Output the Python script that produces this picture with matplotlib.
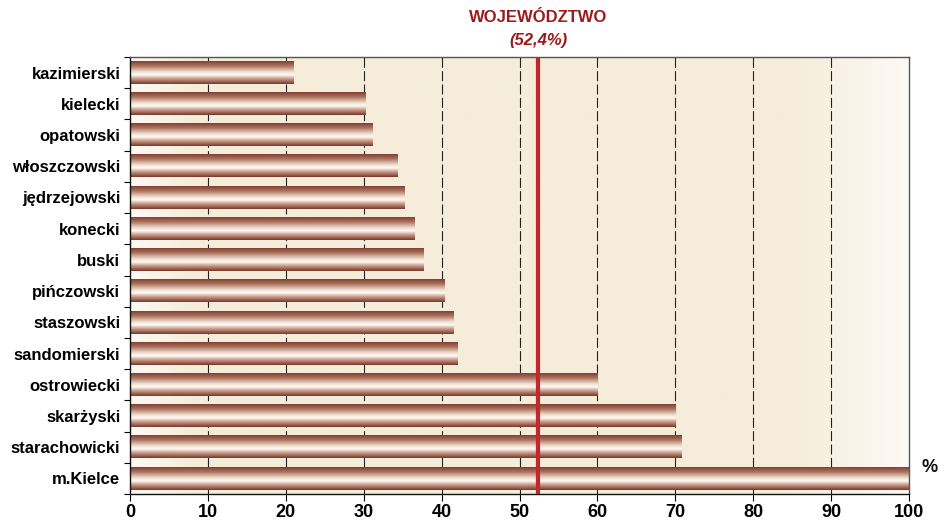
import numpy as np
import matplotlib
matplotlib.use("Agg")
import matplotlib.pyplot as plt
from matplotlib.ticker import FixedLocator

categories = ["kazimierski", "kielecki", "opatowski", "włoszczowski", "jędrzejowski",
              "konecki", "buski", "pińczowski", "staszowski", "sandomierski",
              "ostrowiecki", "skarżyski", "starachowicki", "m.Kielce"]
values = [21.0, 30.2, 31.1, 34.4, 35.3, 36.5, 37.7, 40.4, 41.5, 42.0, 60.0, 70.0, 70.8, 100.0]
xticks = [0, 10, 20, 30, 40, 50, 60, 70, 80, 90, 100]
region_value = 52.4
region_label = "WOJEWÓDZTWO"
region_text = "(52,4%)"

regular = ["Liberation Sans", "DejaVu Sans"]

fig = plt.figure(figsize=(9.46, 5.23), dpi=100)
ax = fig.add_axes([130/946, 1-494/523, (909-130)/946, (494-57)/523])

n = len(categories)
ypos = np.arange(n)

# background gradient (horizontal)
bx = np.linspace(0, 1, 400)
stops_x = [0.0, 0.08, 0.85, 0.97, 1.0]
cr = np.array([[253, 250, 244], [245, 236, 218], [245, 236, 218], [251, 247, 240], [253, 251, 247]]) / 255
bg = np.stack([np.interp(bx, stops_x, cr[:, k]) for k in range(3)], axis=-1)[None, :, :]
ax.imshow(bg, extent=(0, 100, n - 0.5, -0.5), aspect="auto", zorder=0, interpolation="bilinear")

# grid
for xv in xticks[1:-1]:
    ax.axvline(xv, color="#222222", lw=0.8, dashes=(9, 3), zorder=1)

# bars with vertical gradient
h = 0.72
t = np.linspace(0, 1, 60)
stops_t = [0.0, 0.2, 0.45, 0.6, 0.78, 1.0]
cols = np.array([[130, 65, 50], [170, 112, 92], [236, 216, 200], [255, 252, 248],
                 [200, 152, 132], [120, 58, 45]]) / 255
grad = np.stack([np.interp(t, stops_t, cols[:, k]) for k in range(3)], axis=-1)[:, None, :]
for y, v in zip(ypos, values):
    ax.imshow(grad, extent=(0, v, y + h/2, y - h/2), aspect="auto", zorder=2,
              interpolation="bilinear")

# region line
ax.axvline(region_value, color="#c1272d", lw=3, zorder=3)

ax.set_xlim(0, 100)
ax.set_ylim(n - 0.5, -0.5)

ax.set_yticks(ypos)
ax.set_yticklabels(categories, fontfamily=regular, fontweight="bold", fontsize=12)
ax.yaxis.set_minor_locator(FixedLocator(np.arange(-0.5, n, 1.0)))
ax.tick_params(axis="y", which="major", length=0, pad=7)
ax.tick_params(axis="y", which="minor", length=4, width=0.8, direction="out")

ax.set_xticks(xticks)
ax.set_xticklabels([str(x) for x in xticks], fontfamily=regular, fontweight="bold", fontsize=13)
ax.tick_params(axis="x", length=5, width=0.8, direction="out", pad=2)

for s in ["top", "right"]:
    ax.spines[s].set_color("#555555")
    ax.spines[s].set_linewidth(1.0)
for s in ["left", "bottom"]:
    ax.spines[s].set_color("#111111")
    ax.spines[s].set_linewidth(1.0)

# annotation
xf = (130 + region_value * 7.79) / 946
fig.text(xf, 1 - 17/523, region_label, ha="center", va="center", color="#9b1b1b",
         fontfamily=regular, fontweight="bold", fontsize=12)
fig.text(xf, 1 - 40/523, region_text, ha="center", va="center", color="#9b1b1b",
         fontfamily=regular, fontweight="bold", fontstyle="italic", fontsize=12)
fig.text(930/946, 1 - 468/523, "%", ha="center", va="center", color="#111111",
         fontfamily=regular, fontweight="bold", fontsize=13)

fig.savefig("out.png", dpi=100, facecolor="white")
